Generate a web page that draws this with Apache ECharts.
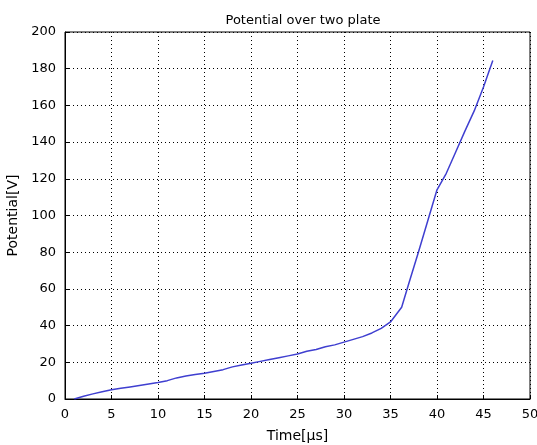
<!DOCTYPE html>
<html><head><meta charset="utf-8">
<script src="https://cdn.jsdelivr.net/npm/echarts@6/dist/echarts.min.js"></script>
<style>html,body{margin:0;padding:0;background:#fff}#c{width:537px;height:445px}</style>
</head><body><div id="c"></div>
<script>
const titleText = "Potential over two plate";
const xName = "Time[μs]";
const yName = "Potential[V]";
const timeValues = [1,2,3,4,5,6,7,8,9,10,11,12,13,14,15,16,17,18,19,20,21,22,23,24,25,26,27,28,29,30,31,32,33,34,35,36.2,37,38,39,40,41,42,43,44,45,46];
const potentialValues = [0,1.5,2.8,4,5,5.8,6.6,7.4,8.2,9,10,11.5,12.5,13.3,14,15,16,17.5,18.5,19.5,20.5,21.5,22.5,23.5,24.5,26,27,28.5,29.5,31,32.5,34,36,38.5,42,50,63.5,80,97,114,123,134.5,146,157,170,184.5];
const data = timeValues.map((t,i)=>[t,potentialValues[i]]);
const font = "DejaVu Sans";
const chart = echarts.init(document.getElementById('c'));
chart.setOption({
  backgroundColor:'#fff',
  animation:false,
  title:{text:titleText,left:298,top:9,textAlign:'center',textStyle:{fontFamily:font,fontSize:13,fontWeight:'normal',color:'#000'}},
  grid:{left:65,top:32,right:7,bottom:46,show:true,borderColor:'#000',borderWidth:1,containLabel:false,outerBoundsMode:'none'},
  xAxis:{type:'value',min:0,max:50,interval:5,name:xName,nameLocation:'middle',nameGap:30,
    nameTextStyle:{fontFamily:font,fontSize:14,color:'#000'},
    axisLine:{show:true,lineStyle:{color:'#000'}},axisTick:{show:true,inside:true,length:4,lineStyle:{color:'#000'}},
    axisLabel:{fontFamily:font,fontSize:13,color:'#000',margin:9},
    splitLine:{show:true,lineStyle:{color:'#000',type:[1,3],width:1}}},
  yAxis:{type:'value',min:0,max:200,interval:20,name:yName,nameLocation:'middle',nameGap:34,
    nameTextStyle:{fontFamily:font,fontSize:14,color:'#000'},
    axisLine:{show:true,lineStyle:{color:'#000'}},axisTick:{show:true,inside:true,length:4,lineStyle:{color:'#000'}},
    axisLabel:{fontFamily:font,fontSize:13,color:'#000',margin:9},
    splitLine:{show:true,lineStyle:{color:'#000',type:[1,3],width:1}}},
  series:[{type:'line',data:data,showSymbol:false,lineStyle:{color:'#3f3fd0',width:1.5},itemStyle:{color:'#3f3fd0'}}]
});
</script></body></html>
